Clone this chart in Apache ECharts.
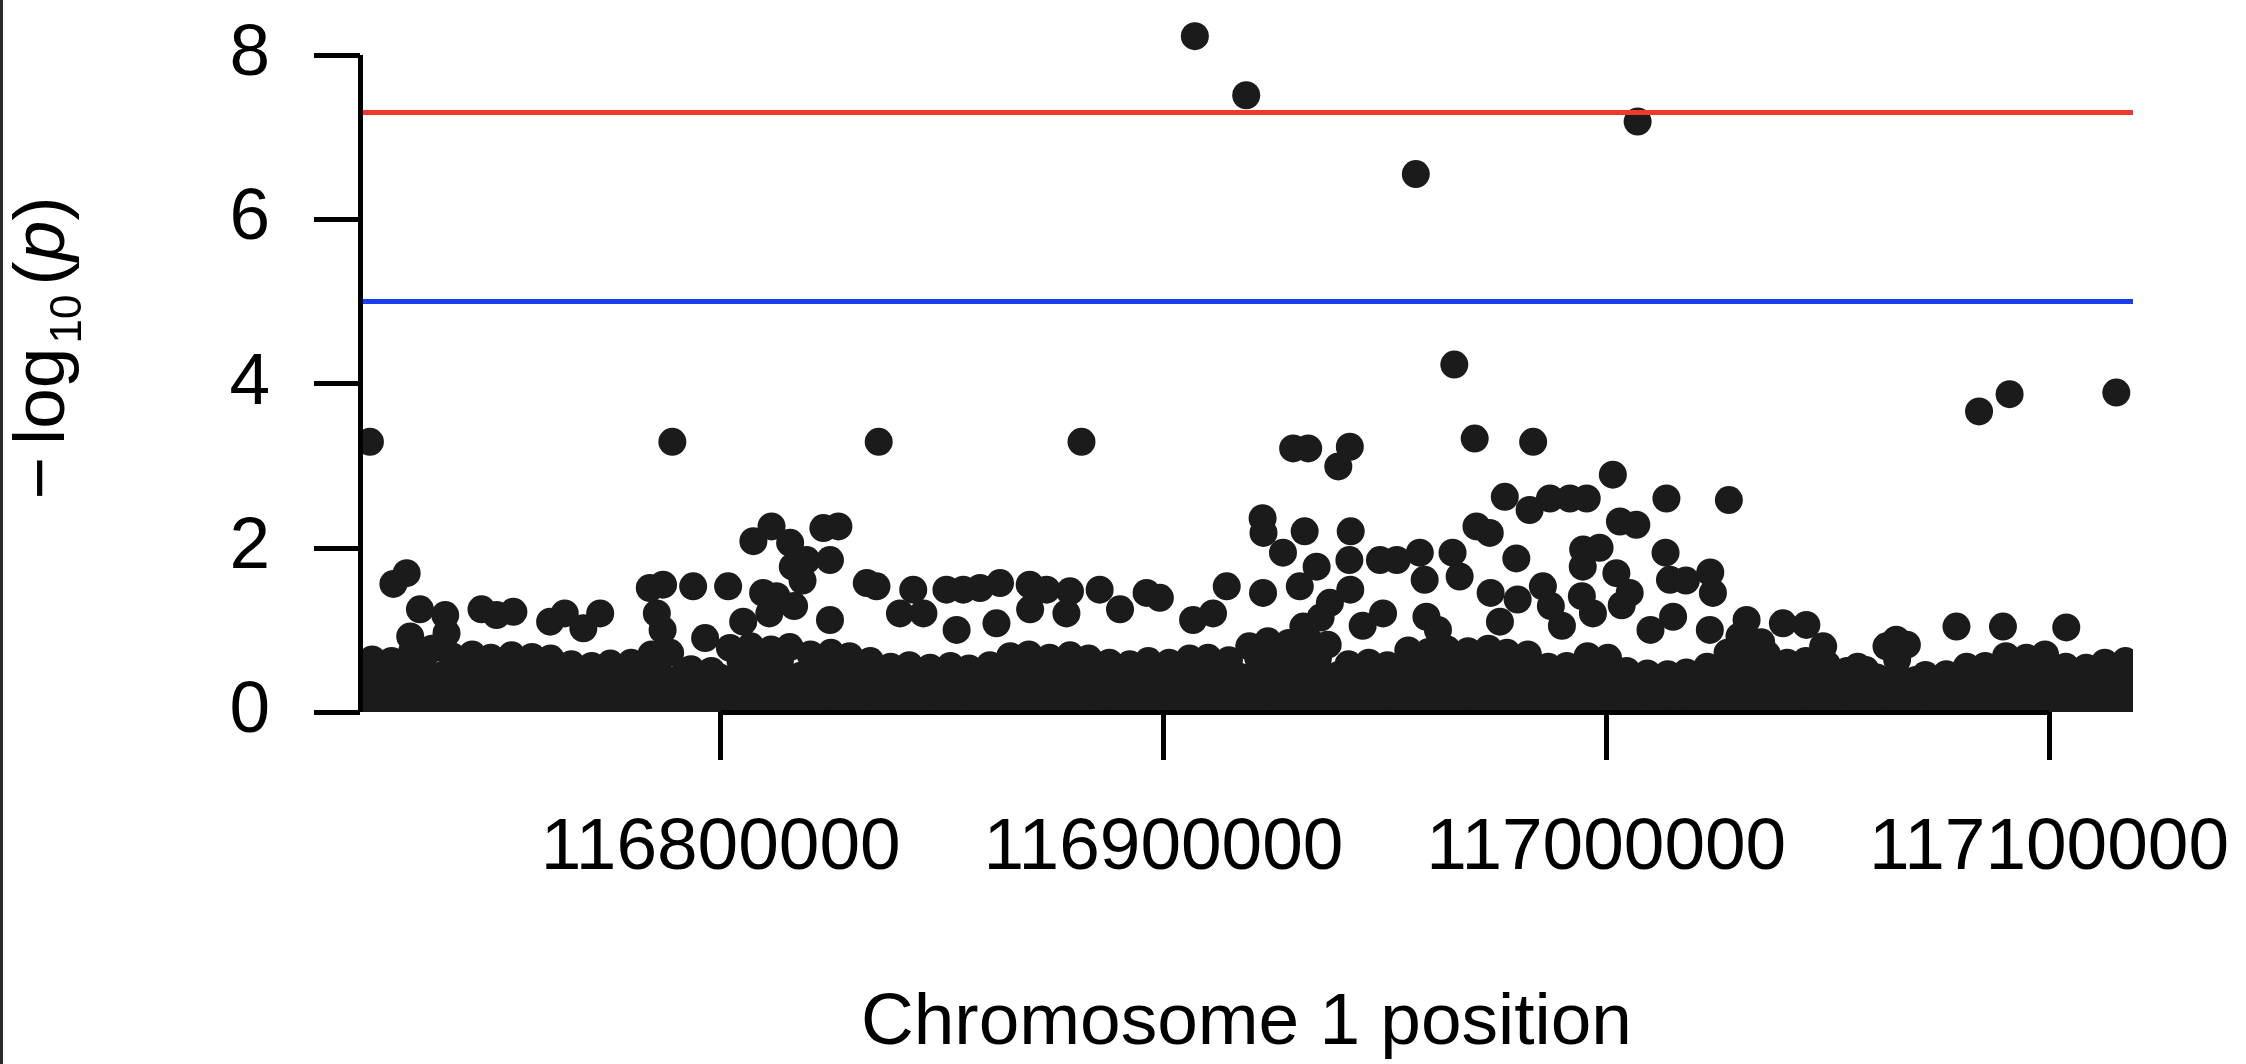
<!DOCTYPE html>
<html><head><meta charset="utf-8">
<script src="https://cdn.jsdelivr.net/npm/echarts@6/dist/echarts.min.js"></script>
<style>
html,body{margin:0;padding:0;background:#fff;}
#c{width:2246px;height:1064px;}
#edge{position:absolute;left:0;top:0;width:3px;height:1064px;background:#2a2a2a;}
</style>
</head><body><div id="c"></div><div id="edge"></div>
<script>
// axis ticks
const xTicks = [116800000, 116900000, 117000000, 117100000];
const yTicks = [0, 2, 4, 6, 8];
// threshold lines (-log10 p)
const genomeWideLine = 7.3;
const suggestiveLine = 5;

// SNPs, [position in kb, -log10(p)]
// dense band, lowest layer
const bandLow = [[116719.0,0.08],[116723.6,0.06],[116728.0,0.11],[116732.7,0.07],[116736.9,0.09],[116741.5,0.05],[116746.2,0.1],[116750.3,0.07],[116755.0,0.12],[116759.6,0.06],
[116763.9,0.09],[116768.5,0.07],[116773.2,0.1],[116777.3,0.05],[116782.0,0.08],[116786.7,0.11],[116790.9,0.06],[116795.5,0.09],[116800.1,0.07],[116804.3,0.1],
[116809.0,0.06],[116813.6,0.09],[116817.9,0.12],[116822.5,0.07],[116827.1,0.05],[116831.3,0.1],[116836.0,0.08],[116840.6,0.06],[116844.9,0.11],[116849.5,0.07],
[116854.1,0.09],[116858.3,0.05],[116863.0,0.1],[116867.6,0.08],[116871.9,0.06],[116876.5,0.11],[116881.1,0.07],[116885.3,0.09],[116890.0,0.05],[116894.6,0.1],
[116898.9,0.08],[116903.5,0.06],[116908.1,0.11],[116912.3,0.07],[116917.0,0.09],[116921.6,0.05],[116925.9,0.1],[116930.5,0.08],[116935.1,0.06],[116939.3,0.11],
[116944.0,0.07],[116948.6,0.09],[116952.9,0.05],[116957.5,0.1],[116962.1,0.08],[116966.3,0.06],[116971.0,0.11],[116975.6,0.07],[116979.9,0.09],[116984.5,0.05],
[116989.1,0.1],[116993.3,0.08],[116998.0,0.06],[117002.6,0.11],[117006.9,0.07],[117011.5,0.09],[117016.1,0.05],[117020.3,0.1],[117025.0,0.08],[117029.6,0.06],
[117033.9,0.11],[117038.5,0.07],[117043.1,0.09],[117047.3,0.05],[117052.0,0.1],[117056.6,0.08],[117060.9,0.06],[117065.5,0.11],[117070.1,0.07],[117074.3,0.09],
[117079.0,0.05],[117083.6,0.1],[117087.9,0.08],[117092.5,0.06],[117097.1,0.11],[117101.3,0.07],[117106.0,0.09],[117110.6,0.05],[117114.9,0.1],[117118.7,0.08]];
// dense band, second layer
const bandMid = [[116721.3,0.26],[116725.7,0.24],[116730.4,0.28],[116734.8,0.25],[116739.3,0.27],[116743.9,0.23],[116748.1,0.28],[116752.8,0.25],[116757.4,0.26],[116761.6,0.24],
[116766.3,0.28],[116770.9,0.25],[116775.1,0.27],[116779.8,0.23],[116784.4,0.26],[116788.6,0.28],[116793.3,0.24],[116797.9,0.26],[116802.1,0.25],[116806.8,0.28],
[116811.4,0.24],[116815.6,0.27],[116820.3,0.25],[116824.9,0.23],[116829.1,0.28],[116833.8,0.26],[116838.4,0.24],[116842.6,0.27],[116847.3,0.25],[116851.9,0.28],
[116856.1,0.23],[116860.8,0.26],[116865.4,0.25],[116869.6,0.28],[116874.3,0.24],[116878.9,0.27],[116883.1,0.25],[116887.8,0.23],[116892.4,0.28],[116896.6,0.26],
[116901.3,0.24],[116905.9,0.27],[116910.1,0.25],[116914.8,0.28],[116919.4,0.23],[116923.6,0.26],[116928.3,0.25],[116932.9,0.28],[116937.1,0.24],[116941.8,0.27],
[116946.4,0.25],[116950.6,0.23],[116955.3,0.28],[116959.9,0.26],[116964.1,0.24],[116968.8,0.27],[116973.4,0.25],[116977.6,0.28],[116982.3,0.23],[116986.9,0.26],
[116991.1,0.25],[116995.8,0.28],[117000.4,0.24],[117004.6,0.27],[117009.3,0.25],[117013.9,0.23],[117018.1,0.28],[117022.8,0.26],[117027.4,0.24],[117031.6,0.27],
[117036.3,0.25],[117040.9,0.28],[117045.1,0.23],[117049.8,0.26],[117054.4,0.25],[117058.6,0.28],[117063.3,0.24],[117067.9,0.27],[117072.1,0.25],[117076.8,0.23],
[117081.4,0.28],[117085.6,0.26],[117090.3,0.24],[117094.9,0.27],[117099.1,0.25],[117103.8,0.28],[117108.4,0.23],[117112.6,0.26],[117117.3,0.25]];
// dense band, third layer
const bandHigh = [[116719.2,0.45],[116723.8,0.43],[116728.3,0.46],[116732.6,0.44],[116737.2,0.45],[116741.7,0.42],[116746.0,0.46],[116750.6,0.43],[116755.2,0.45],[116759.4,0.44],
[116764.1,0.42],[116768.7,0.45],[116772.9,0.43],[116777.5,0.46],[116782.2,0.44],[116786.4,0.45],[116791.1,0.42],[116795.4,0.41],[116799.8,0.42],[116804.5,0.45],
[116809.2,0.43],[116813.4,0.46],[116818.1,0.44],[116822.7,0.45],[116826.9,0.42],[116831.5,0.46],[116836.2,0.43],[116840.4,0.45],[116845.1,0.42],[116849.7,0.44],
[116853.9,0.46],[116858.6,0.42],[116863.2,0.45],[116867.4,0.43],[116872.1,0.46],[116876.7,0.44],[116880.9,0.45],[116885.6,0.42],[116890.2,0.46],[116894.4,0.43],
[116899.1,0.45],[116903.7,0.44],[116907.9,0.42],[116912.6,0.46],[116917.2,0.43],[116921.4,0.45],[116926.1,0.44],[116930.7,0.46],[116934.9,0.42],[116939.6,0.45],
[116944.2,0.43],[116948.4,0.46],[116953.1,0.44],[116957.7,0.45],[116961.9,0.42],[116966.6,0.46],[116971.2,0.43],[116975.4,0.45],[116980.1,0.44],[116984.7,0.42],
[116988.9,0.45],[116993.6,0.43],[116998.2,0.46],[117002.4,0.42],[117007.1,0.4],[117011.7,0.39],[117015.9,0.41],[117020.6,0.4],[117025.2,0.43],[117029.4,0.45],
[117034.1,0.46],[117038.7,0.44],[117042.9,0.45],[117047.6,0.42],[117052.2,0.43],[117056.4,0.41],[117061.1,0.42],[117065.7,0.45],[117069.9,0.39],[117074.6,0.38],
[117079.2,0.42],[117083.4,0.45],[117088.1,0.43],[117092.7,0.46],[117096.9,0.44],[117101.6,0.45],[117106.2,0.42],[117110.4,0.43],[117115.1,0.45],[117118.9,0.44]];
// top edge of the band
const bandTop = [[116721.3,0.64],[116725.7,0.62],[116730.4,0.75],[116734.8,0.77],[116739.3,0.68],[116743.9,0.7],[116748.1,0.66],[116752.8,0.69],[116757.4,0.67],[116761.6,0.65],
[116766.3,0.58],[116770.9,0.56],[116775.1,0.59],[116779.8,0.6],[116784.4,0.7],[116788.6,0.72],[116793.3,0.52],[116797.9,0.5],[116802.1,0.78],[116806.8,0.8],
[116811.4,0.76],[116815.6,0.79],[116820.3,0.7],[116824.9,0.72],[116829.1,0.68],[116833.8,0.62],[116838.4,0.55],[116842.6,0.57],[116847.3,0.54],[116851.9,0.56],
[116856.1,0.53],[116860.8,0.57],[116865.4,0.68],[116869.6,0.7],[116874.3,0.66],[116878.9,0.69],[116883.1,0.65],[116887.8,0.6],[116892.4,0.58],[116896.6,0.62],
[116901.3,0.6],[116905.9,0.65],[116910.1,0.66],[116914.8,0.63],[116919.4,0.8],[116923.6,0.86],[116928.3,0.84],[116932.9,0.87],[116937.1,0.82],[116941.8,0.58],
[116946.4,0.6],[116950.6,0.57],[116955.3,0.75],[116959.9,0.73],[116964.1,0.76],[116968.8,0.74],[116973.4,0.77],[116977.6,0.72],[116982.3,0.7],[116986.9,0.55],
[116991.1,0.56],[116995.8,0.68],[117000.4,0.66],[117004.6,0.5],[117009.3,0.47],[117013.9,0.46],[117018.1,0.48],[117022.8,0.55],[117027.4,0.72],[117031.6,0.74],
[117036.3,0.7],[117040.9,0.6],[117045.1,0.62],[117049.8,0.58],[117054.4,0.5],[117058.6,0.51],[117063.3,0.8],[117067.9,0.82],[117072.1,0.45],[117076.8,0.46],
[117081.4,0.55],[117085.6,0.56],[117090.3,0.68],[117094.9,0.66],[117099.1,0.7],[117103.8,0.55],[117108.4,0.54],[117112.6,0.6],[117117.3,0.62],
[116732.6,0.6],[116804.5,0.62],[116809.2,0.6],[116813.4,0.62],[116921.4,0.66],[116926.1,0.68],[116930.7,0.66],[116934.9,0.65],
[116957.7,0.6],[116962.0,0.6],[116966.6,0.61],[116971.2,0.6],[116975.4,0.6],[117029.4,0.6],[117034.1,0.6],[117065.7,0.64]];
// scattered points above the band
const midSnps = [[116726.1,1.56],[116729.1,1.69],[116732.1,1.25],[116737.8,1.18],[116729.9,0.92],[116738.1,0.96],
[116746.0,1.25],[116749.4,1.18],[116753.2,1.22],
[116761.5,1.1],[116764.8,1.2],[116769.0,1.02],[116772.8,1.2],
[116784.0,1.51],[116787.0,1.55],[116785.6,1.2],[116786.9,1.0],
[116793.8,1.53],[116796.5,0.9],
[116801.7,1.53],[116805.1,1.1],[116807.4,2.08],[116811.5,2.26],[116815.7,2.06],[116809.6,1.45],[116812.6,1.41],[116811.0,1.2],[116816.3,1.77],[116816.6,1.29],
[116818.5,1.6],[116819.4,1.85],[116823.2,2.24],[116826.6,2.26],[116824.7,1.85],[116824.7,1.12],
[116833.0,1.57],[116835.2,1.53],[116840.5,1.2],[116843.5,1.49],[116845.8,1.2],
[116851.0,1.49],[116853.3,1.0],[116854.8,1.49],[116858.6,1.51],[116862.3,1.08],[116863.1,1.57],
[116869.8,1.55],[116869.9,1.25],[116873.6,1.49],[116878.1,1.2],[116878.9,1.47],[116885.6,1.49],[116890.2,1.25],
[116896.2,1.45],[116899.2,1.39],[116906.7,1.12],[116911.2,1.2],[116914.3,1.53],
[116922.4,2.36],[116922.6,2.18],[116922.5,1.45],[116927.0,1.94],[116929.3,3.21],[116932.7,3.21],[116931.9,2.2],[116930.8,1.53],[116931.6,1.04],[116934.6,1.77],[116935.5,1.15],[116937.6,1.33],
[116939.5,2.99],[116942.1,3.23],[116942.3,2.2],[116942.0,1.85],[116942.2,1.49],[116945.0,1.05],[116948.9,1.85],[116952.7,1.85],[116949.6,1.2],
[116957.9,1.94],[116959.0,1.61],[116959.4,1.16],[116962.0,1.0],[116965.3,1.94],[116965.7,4.23],[116966.9,1.65],
[116970.3,3.33],[116970.7,2.26],[116973.7,2.18],[116973.9,1.45],[116976.0,1.1],[116977.1,2.62],[116979.7,1.87],[116980.0,1.37],
[116982.7,2.46],[116983.5,3.29],[116985.7,1.53],[116987.3,2.6],[116987.5,1.29],[116990.0,1.05],[116991.8,2.6],[116995.6,2.6],
[116994.8,1.98],[116994.7,1.77],[116994.5,1.41],[116997.0,1.2],[116998.5,2.0],
[117001.5,2.89],[117002.3,1.69],[117003.1,2.32],[117003.5,1.3],[117005.3,1.45],[117006.8,2.28],[117010.0,1.0],
[117013.6,2.6],[117013.4,1.94],[117014.4,1.61],[117015.1,1.16],[117018.0,1.6],
[117023.5,1.7],[117024.1,1.45],[117023.4,1.0],[117027.7,2.58],[117030.1,0.92],[117031.7,1.12],[117035.0,0.85],
[117039.9,1.08],[117045.2,1.06],[117049.0,0.8],[117056.8,0.55],[117065.5,0.88],
[117079.1,1.04],[117084.2,3.66],[117089.6,1.04],[117091.1,3.87],[117103.9,1.03],[117115.2,3.89],
[116720.8,3.29],[116789.1,3.29],[116835.7,3.29],[116881.5,3.29]];
// strongest signals
const peakSnps = [[116907.1,8.23],[116918.7,7.51],[116957.0,6.55],[117007.1,7.19]];

const X_MIN = 116718560, X_MAX = 117118970;
const FONT = '"Liberation Sans", Arial, Helvetica, sans-serif';
const POINT = '#1b1b1b';
const toBp = p => [Math.round(p[0] * 1000), p[1]];
const snps = [].concat(bandLow, bandMid, bandHigh, bandTop, midSnps).map(toBp);
const peaks = peakSnps.map(toBp);

const chart = echarts.init(document.getElementById('c'), null, {renderer: 'canvas'});
chart.setOption({
  animation: false,
  backgroundColor: '#fff',
  grid: {left: 360, right: 113, top: 0, bottom: 352, containLabel: false, outerBoundsMode: 'none'},
  xAxis: {
    type: 'value', min: X_MIN, max: X_MAX,
    axisLine: {show: false}, splitLine: {show: false},
    axisTick: {show: true, customValues: xTicks, length: 48, lineStyle: {width: 5, color: '#000'}},
    axisLabel: {customValues: xTicks, margin: 100, fontSize: 73, fontFamily: FONT, color: '#000',
      formatter: v => String(v)},
    name: 'Chromosome 1 position', nameLocation: 'middle', nameGap: 275,
    nameTextStyle: {fontSize: 73, fontFamily: FONT, color: '#000'}
  },
  yAxis: {
    type: 'value', min: 0, max: 8.67,
    axisLine: {show: false}, splitLine: {show: false},
    axisTick: {show: true, customValues: yTicks, length: 46, lineStyle: {width: 5, color: '#000'}},
    axisLabel: {customValues: yTicks, margin: 90, fontSize: 73, fontFamily: FONT, color: '#000'},
    name: '{m|\u2212}{t|log}{s|10}{t|(}{i|p}{t|)}', nameLocation: 'middle', nameGap: 269,
    nameTextStyle: {fontSize: 73, fontFamily: FONT, color: '#000',
      rich: {
        m: {fontSize: 73, fontFamily: FONT, color: '#000', lineHeight: 94, verticalAlign: 'middle', padding: [0, 12, 0, 16]},
        t: {fontSize: 73, fontFamily: FONT, color: '#000', lineHeight: 94, verticalAlign: 'middle'},
        s: {fontSize: 44, fontFamily: FONT, color: '#000', lineHeight: 44, verticalAlign: 'bottom', padding: [0, 9, 0, 4]},
        i: {fontSize: 73, fontFamily: FONT, color: '#000', lineHeight: 94, verticalAlign: 'middle', fontStyle: 'italic'}
      }}
  },
  series: [{
    type: 'custom', data: snps, clip: true, silent: true,
    encode: {x: 0, y: 1},
    renderItem: (params, api) => {
      const c = api.coord([api.value(0), api.value(1)]);
      return {type: 'circle', shape: {cx: c[0], cy: c[1], r: 14}, style: {fill: POINT}};
    }
  }, {
    type: 'scatter', data: peaks, symbol: 'circle', symbolSize: 28, silent: true,
    itemStyle: {color: POINT, opacity: 1},
    markLine: {
      silent: true, symbol: 'none', animation: false, label: {show: false},
      emphasis: {disabled: true},
      data: [
        {yAxis: genomeWideLine, lineStyle: {color: '#ec3a2f', width: 5, type: 'solid'}},
        {yAxis: suggestiveLine, lineStyle: {color: '#1b3df2', width: 5, type: 'solid'}},
        [{coord: [X_MIN, yTicks[0]], lineStyle: {color: '#000', width: 5, type: 'solid'}}, {coord: [X_MIN, yTicks[yTicks.length - 1]]}],
        [{coord: [xTicks[0], 0], lineStyle: {color: '#000', width: 5, type: 'solid'}}, {coord: [xTicks[xTicks.length - 1], 0]}]
      ]
    }
  }]
});
</script>
</body></html>
